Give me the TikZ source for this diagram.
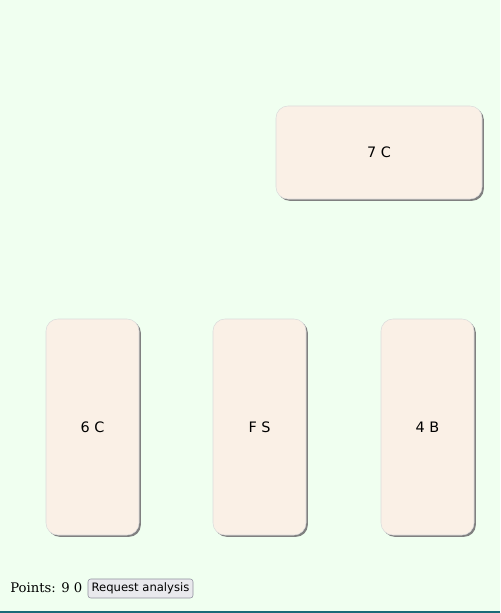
\documentclass[tikz,border=0pt]{standalone}
\usepackage{fontspec}
\setmainfont{DejaVu Serif}
\newfontfamily\cardfont{DejaVu Sans}
\usetikzlibrary{shadows}
\definecolor{bgmint}{HTML}{F0FFF0}
\definecolor{cardlinen}{HTML}{FAF0E6}
\definecolor{cardedge}{HTML}{DCDCDC}
\definecolor{btnfill}{HTML}{E9E9ED}
\definecolor{btnedge}{HTML}{8F8F9D}
\definecolor{baseteal}{HTML}{1B6A78}
\tikzset{
  card/.style={draw=cardedge, fill=cardlinen, rounded corners=9pt, inner sep=0pt, outer sep=0pt,
    font=\cardfont\fontsize{10.8pt}{12pt}\selectfont,
    general shadow={shadow xshift=1.4pt, shadow yshift=-1.4pt, fill=black!50}},
  wide/.style={minimum width=154.5pt, minimum height=69.75pt},
  tall/.style={minimum width=69.75pt, minimum height=162pt},
  button/.style={draw=btnedge, fill=btnfill, rounded corners=2pt, minimum width=78.75pt,
    minimum height=14.25pt, inner sep=0pt, font=\cardfont\fontsize{8.7pt}{10pt}\selectfont}
}
\begin{document}
\begin{tikzpicture}[x=0.75pt,y=-0.75pt]
\fill[bgmint] (0,0) rectangle (500,613);
\useasboundingbox (0,0) rectangle (500,613);
% top card
\node[card,wide] (seven) at (379,152.5) {7 C};
% bottom row
\node[card,tall] (six) at (92.5,427) {6 C};
\node[card,tall] (fs) at (259.5,427) {F S};
\node[card,tall] (four) at (427.5,427) {4 B};
% score line
\node[anchor=base west,inner sep=0pt,font=\fontsize{9.9pt}{12pt}\selectfont] (points) at (10,592.5) {Points: 9 0};
\node[button] (analysis) at (140.5,588.5) {Request analysis};
\draw[baseteal,line width=1.5pt] (0,612) -- (500,612);
\end{tikzpicture}
\end{document}
